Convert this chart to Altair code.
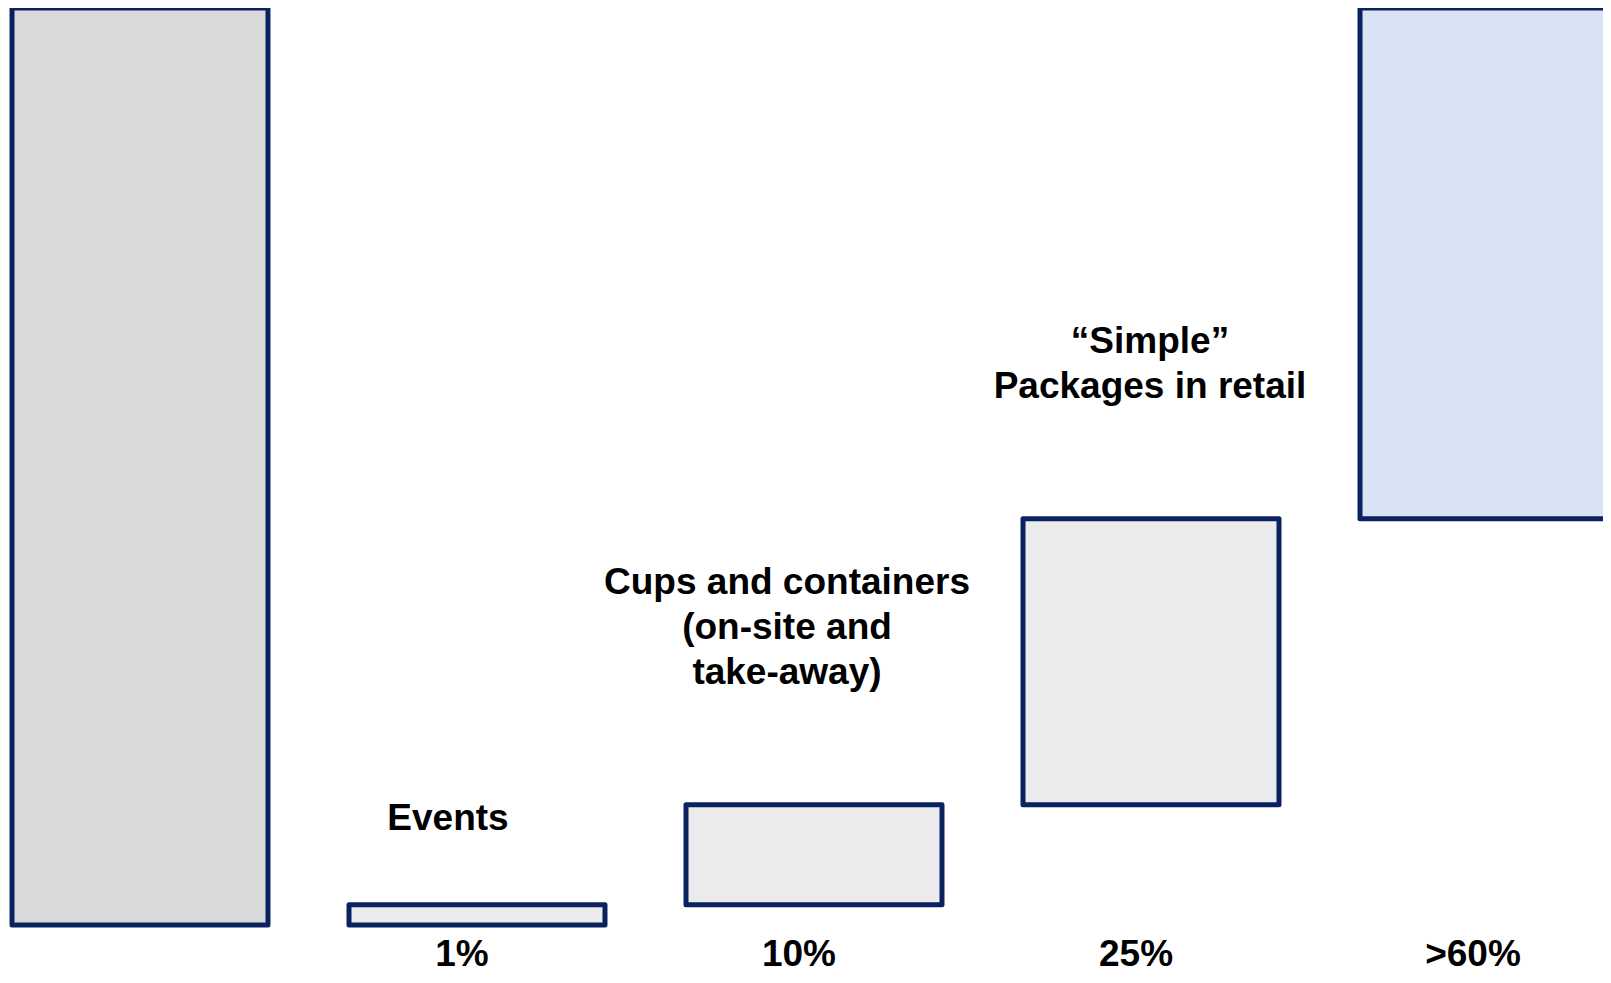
import altair as alt
import pandas as pd

# ---- data (y in % of the total bar) ----
categories = ["Total", "Events", "Cups and containers", "Simple packages", "Remaining"]
tick_labels = ["", "1%", "10%", "25%", ">60%"]
bar_bottom = [0, 0, 2.2, 13.1, 44.3]
bar_top = [100, 2.2, 13.1, 44.3, 100]
bar_kind = ["total", "step", "step", "step", "rest"]

annotation_cats = ["Events", "Cups and containers", "Simple packages"]
annotation_text = [
    "Events",
    "Cups and containers\n(on-site and\ntake-away)",
    "\u201cSimple\u201d\nPackages in retail",
]

bars_df = pd.DataFrame({"cat": categories, "low": bar_bottom, "high": bar_top, "kind": bar_kind})
ann_df = pd.DataFrame({
    "cat": annotation_cats,
    "text": annotation_text,
    "high": [bar_top[categories.index(c)] for c in annotation_cats],
})
pct_df = pd.DataFrame({
    "cat": [c for c, t in zip(categories, tick_labels) if t],
    "label": [t for t in tick_labels if t],
    "base": [0 for t in tick_labels if t],
})

FONT = "Liberation Sans"
NAVY = "#0b2261"

x_scale = alt.Scale(domain=categories, range=[0, 1604], paddingInner=0.2404, paddingOuter=0)
y_scale = alt.Scale(domain=[0, 100], nice=False, zero=True)

bars = alt.Chart(bars_df).mark_bar(stroke=NAVY, strokeWidth=5, strokeJoin="round").encode(
    x=alt.X("cat:N", scale=x_scale, sort=categories, axis=None),
    y=alt.Y("low:Q", scale=y_scale, axis=None),
    y2="high:Q",
    color=alt.Color("kind:N", scale=alt.Scale(domain=["total", "step", "rest"],
                                              range=["#d9d9d9", "#ebebeb", "#dae3f3"]),
                    legend=None),
)

pct_labels = alt.Chart(pct_df).mark_text(
    font=FONT, fontSize=37, fontWeight="bold", color="black",
    align="center", baseline="middle", dx=-15, dy=30,
).encode(
    x=alt.X("cat:N", scale=x_scale, sort=categories, axis=None),
    y=alt.Y("base:Q", scale=y_scale, axis=None),
    text="label:N",
)

def annotation(cat, dx, dy):
    return alt.Chart(ann_df).transform_filter(alt.datum.cat == cat).mark_text(
        font=FONT, fontSize=37, fontWeight="bold", color="black",
        align="center", baseline="bottom", lineBreak="\n", lineHeight=45,
        dx=dx, dy=dy,
    ).encode(
        x=alt.X("cat:N", scale=x_scale, sort=categories, axis=None),
        y=alt.Y("high:Q", scale=y_scale, axis=None),
        text="text:N",
    )

chart = alt.layer(
    bars,
    pct_labels,
    annotation("Events", -29, -67),
    annotation("Cups and containers", -27, -203),
    annotation("Simple packages", -1, -158),
).properties(
    width=1591,
    height=917,
    padding={"left": 4, "top": 0, "right": 0, "bottom": 49},
    autosize=alt.AutoSizeParams(type="none"),
).configure_view(strokeWidth=0)

chart.save("out.html", embed_options={"renderer": "svg", "actions": False})
